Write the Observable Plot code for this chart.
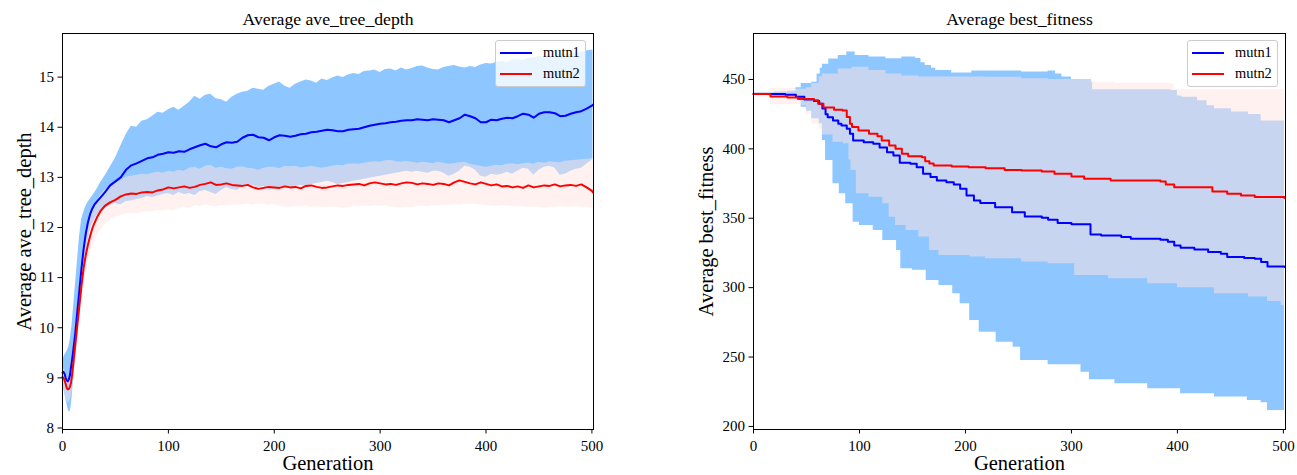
<!DOCTYPE html>
<html>
<head>
<meta charset="utf-8">
<script src="https://cdn.jsdelivr.net/npm/d3@7"></script>
<script src="https://cdn.jsdelivr.net/npm/@observablehq/plot@0.6"></script>
<style>
  html, body { margin: 0; padding: 0; background: #fff; }
  #wrap { position: relative; width: 1297px; height: 475px; overflow: hidden;
          font-family: "Liberation Serif", "Times New Roman", serif; }
  .panel { position: absolute; top: 0; }
  .legend { position: absolute; width: 91px; height: 47px; box-sizing: border-box;
            background: rgba(255,255,255,0.8); border: 1px solid #cccccc; border-radius: 3px; }
  .legend .sw { position: absolute; left: 4px; width: 32px; height: 2px; }
  .legend .lab { position: absolute; left: 47px; font-size: 14.4px; line-height: 16px; color: #000; }
</style>
</head>
<body>
<div id="wrap">
  <div class="panel" id="left" style="left:0px"></div>
  <div class="panel" id="right" style="left:648px"></div>
</div>
<script>
// ---------- labels ----------
const SERIES = ["mutn1", "mutn2"];
const L_TITLE = "Average ave_tree_depth";
const L_YLABEL = "Average ave_tree_depth";
const R_TITLE = "Average best_fitness";
const R_YLABEL = "Average best_fitness";
const X_LABEL = "Generation";
const X_TICKS = [0, 100, 200, 300, 400, 500];
const L_Y_TICKS = [8, 9, 10, 11, 12, 13, 14, 15];
const R_Y_TICKS = [200, 250, 300, 350, 400, 450];

// ---------- left panel: average tree depth (mean and band per generation) ----------
const L_gen = [0,1,2,3,4,5,6,7,8,9,10,12,14,16,18,20,22,24,26,28,30,33,36,40,
  45,50,55,60,65,70,75,80,85,90, 95,100,105,110,115,120,125,130,135,140,
  145,150,155,160,165,170,175,180,185,190, 195,200,205,210,215,220,225,230,235,240,
  245,250,255,260,265,270,275,280,285,290, 295,300,305,310,315,320,325,330,335,340,
  345,350,355,360,365,370,375,380,385,390, 395,400,405,410,415,420,425,430,435,440,
  445,450,455,460,465,470,475,480,485,490, 495,500,501];

const L_m1 = [9.10,9.12,9.08,9.00,8.95,8.93,8.97,9.05,9.20,9.35,9.52,9.88,10.32,10.76,11.20,11.58,11.88,12.10,12.26,12.37,12.45,12.53,12.60,12.70,
  12.84,12.92,13.00,13.15,13.24,13.28,13.33,13.38,13.40,13.45,
  13.47,13.50,13.49,13.52,13.51,13.56,13.60,13.64,13.67,13.62,
  13.60,13.66,13.70,13.69,13.71,13.79,13.84,13.85,13.80,13.79,
  13.74,13.80,13.84,13.83,13.81,13.83,13.86,13.87,13.90,13.91,
  13.93,13.95,13.94,13.92,13.92,13.95,13.96,13.97,14.00,14.03,
  14.05,14.07,14.08,14.10,14.11,14.13,14.14,14.14,14.16,14.15,
  14.14,14.16,14.15,14.14,14.10,14.14,14.18,14.25,14.22,14.18,
  14.10,14.10,14.15,14.14,14.17,14.19,14.18,14.22,14.27,14.25,
  14.19,14.27,14.30,14.30,14.28,14.22,14.23,14.27,14.30,14.32,
  14.37,14.43,14.45];

const L_u1 = [9.35,9.40,9.45,9.48,9.52,9.56,9.62,9.72,9.88,10.05,10.30,10.80,11.30,11.80,12.15,12.30,12.42,12.50,12.56,12.62,12.68,12.78,12.90,13.02,
  13.20,13.38,13.62,13.85,14.02,14.00,14.12,14.15,14.22,14.30,
  14.28,14.35,14.40,14.34,14.42,14.50,14.62,14.56,14.64,14.66,
  14.57,14.55,14.50,14.60,14.66,14.70,14.72,14.78,14.76,14.74,
  14.82,14.86,14.90,14.82,14.78,14.86,14.90,14.94,14.92,14.88,
  14.96,14.93,14.98,15.02,14.99,15.04,15.07,15.05,15.11,15.12,
  15.14,15.09,15.15,15.16,15.12,15.18,15.14,15.17,15.21,15.22,
  15.18,15.15,15.14,15.19,15.21,15.23,15.20,15.18,15.21,15.19,
  15.24,15.27,15.26,15.29,15.31,15.29,15.34,15.35,15.33,15.37,
  15.38,15.41,15.39,15.43,15.40,15.44,15.46,15.45,15.48,15.50,
  15.52,15.54,15.53];

const L_l1 = [8.85,8.80,8.70,8.60,8.50,8.40,8.33,8.32,8.40,8.60,8.85,9.30,9.75,10.20,10.65,11.05,11.40,11.70,11.92,12.05,12.15,12.25,12.30,12.36,
  12.44,12.48,12.45,12.52,12.53,12.56,12.58,12.62,12.60,12.63,
  12.66,12.68,12.64,12.70,12.66,12.68,12.64,12.72,12.74,12.70,
  12.66,12.74,12.80,12.76,12.74,12.82,12.86,12.84,12.80,12.82,
  12.74,12.76,12.80,12.82,12.78,12.82,12.84,12.82,12.86,12.88,
  12.90,12.92,12.90,12.86,12.88,12.90,12.92,12.94,12.96,12.98,
  13.00,13.02,13.04,13.06,13.08,13.10,13.12,13.10,13.12,13.10,
  13.08,13.12,13.12,13.08,13.02,13.06,13.12,13.22,13.20,13.14,
  13.02,13.00,13.06,13.04,13.06,13.10,13.06,13.12,13.18,13.16,
  13.04,13.14,13.20,13.22,13.18,13.04,13.06,13.12,13.16,13.18,
  13.26,13.34,13.37];

const L_m2 = [9.02,9.00,8.95,8.88,8.80,8.77,8.78,8.82,8.90,9.05,9.25,9.65,10.05,10.45,10.85,11.20,11.45,11.65,11.82,11.97,12.08,12.22,12.33,12.43,
  12.50,12.55,12.62,12.66,12.68,12.67,12.70,12.71,12.70,12.74,
  12.76,12.80,12.78,12.80,12.82,12.79,12.81,12.85,12.87,12.90,
  12.85,12.86,12.88,12.85,12.84,12.83,12.85,12.80,12.77,12.79,
  12.81,12.80,12.79,12.82,12.80,12.81,12.78,12.83,12.84,12.81,
  12.79,12.80,12.82,12.84,12.83,12.85,12.86,12.87,12.84,12.88,
  12.90,12.88,12.86,12.87,12.85,12.88,12.90,12.89,12.86,12.88,
  12.87,12.85,12.88,12.87,12.84,12.90,12.94,12.91,12.88,12.86,
  12.90,12.87,12.84,12.86,12.82,12.83,12.80,12.82,12.79,12.84,
  12.80,12.82,12.84,12.83,12.86,12.82,12.84,12.85,12.83,12.86,
  12.80,12.73,12.70];

const L_u2 = [9.20,9.18,9.15,9.10,9.05,9.00,9.00,9.05,9.15,9.30,9.50,9.90,10.35,10.80,11.20,11.55,11.85,12.05,12.20,12.35,12.45,12.55,12.65,12.75,
  12.82,12.88,12.94,13.00,13.02,13.04,13.06,13.05,13.08,13.10,
  13.08,13.12,13.10,13.14,13.12,13.18,13.20,13.16,13.22,13.24,
  13.18,13.20,13.17,13.16,13.20,13.21,13.18,13.17,13.14,13.18,
  13.20,13.20,13.17,13.22,13.21,13.22,13.19,13.20,13.22,13.20,
  13.18,13.20,13.22,13.24,13.23,13.26,13.27,13.26,13.28,13.30,
  13.31,13.30,13.33,13.34,13.31,13.30,13.32,13.30,13.28,13.30,
  13.29,13.27,13.30,13.28,13.26,13.27,13.29,13.30,13.26,13.24,
  13.22,13.20,13.22,13.24,13.23,13.26,13.27,13.25,13.27,13.28,
  13.26,13.30,13.28,13.31,13.30,13.29,13.32,13.33,13.34,13.35,
  13.36,13.37,13.37];

const L_l2 = [8.85,8.80,8.72,8.62,8.55,8.50,8.50,8.55,8.62,8.75,8.95,9.35,9.75,10.10,10.45,10.80,11.05,11.30,11.45,11.60,11.70,11.85,11.95,12.05,
  12.15,12.20,12.24,12.27,12.28,12.27,12.30,12.32,12.31,12.34,
  12.33,12.35,12.34,12.37,12.40,12.38,12.44,12.42,12.45,12.43,
  12.41,12.44,12.43,12.45,12.44,12.46,12.47,12.45,12.47,12.46,
  12.44,12.46,12.43,12.41,12.40,12.42,12.41,12.43,12.40,12.41,
  12.40,12.40,12.41,12.40,12.38,12.40,12.42,12.41,12.43,12.42,
  12.44,12.42,12.43,12.41,12.40,12.39,12.41,12.40,12.42,12.43,
  12.41,12.44,12.43,12.45,12.44,12.46,12.45,12.47,12.46,12.47,
  12.45,12.44,12.43,12.42,12.44,12.43,12.42,12.41,12.42,12.40,
  12.41,12.40,12.39,12.40,12.41,12.42,12.41,12.40,12.42,12.41,
  12.40,12.39,12.40];

// ---------- right panel: best fitness (step changes: generation where a value starts) ----------
const R_m1_gen = [0,30,40,48,57,62,65,68,70,75,80,83,88,91,94,104,113,119,126,132,138,148,154,160,167,173,182,189,195,201,208,214,228,244,256,272,278,287,300,318,328,347,356,384,391,397,403,416,429,441,447,463,473,479,485,501];
const R_m1 = [439.5,439,437.5,435.5,434.5,432.5,429,425,422.8,420.4,418,416.8,414.4,410.8,406,404.8,403.6,401,397.6,395.2,390,389.3,386.8,382,379.7,377.2,376,374.3,371.2,366.4,362.8,361,358,354.4,351.3,350.3,349,346.5,345.6,338.3,337.6,336.4,335.2,334.5,333,330.4,328.8,327.4,325.6,324.5,322,321.3,320.8,318.4,315.3,314.8];

const R_m2_gen = [0,16,32,42,57,61,66,76,84,88,91,93,99,109,117,121,128,134,140,146,159,162,166,170,187,203,219,237,253,272,284,300,312,337,384,389,397,433,447,460,473,501];
const R_m2 = [439.5,437.8,437,436,435,432.5,429.7,428.1,427.7,422.9,418,415.7,413.3,410.8,409,406,402.4,400,396.4,394.7,394,391,389.5,388,387.3,386.8,386,384.8,384.4,383.7,382,380,378.4,377.2,376.5,374.3,372.4,369.3,367.6,366.4,365.3,364.5];

const R_u1_gen = [0,20,32,40,45,55,60,63,65,71,80,88,96,109,125,140,153,158,162,168,172,187,206,253,278,285,291,300,319,320,394,400,404,419,428,435,451,467,479,501];
const R_u1 = [440.5,441,441.5,444,447,448,454,458,461,464.8,467.3,469.7,467.3,466.1,464.9,466.1,465,462,460,458,456.5,454.6,456,455.3,456,454,451.7,450,448,442.5,442,438,437.2,434.7,431,428.9,426.5,424.8,420,419.4];

const R_l1_gen = [0,32,40,45,50,55,62,65,68,75,81,87,94,100,113,122,135,139,150,163,175,188,195,204,213,229,245,252,278,309,317,341,372,403,435,466,479,485,501];
const R_l1 = [438.5,438,436,430,427,421.7,418,406,391.6,374.8,367.6,360.4,347.2,344.8,341.2,334,326.8,313.6,312.5,305.2,301.5,295.6,288.4,276.4,267.9,260.7,257.1,247.6,244.4,239.1,233.6,230.8,227.2,223.6,221.2,218.7,217,211.5,210.7];

const R_u2_gen = [0,16,40,50,55,62,65,80,93,109,125,140,156,219,253,278,319,341,394,397,404,501];
const R_u2 = [441,443.5,443,444,447,452,454,457.5,458.8,456.5,454,452.5,451.7,451.5,450.5,450,448,447.3,446.8,443,442.5,442];

const R_l2_gen = [0,16,40,45,50,55,62,65,75,85,90,92,97,109,122,128,134,144,156,166,175,204,219,253,278,303,335,372,400,435,467,485,498,501];
const R_l2 = [438.5,432,432,431,425,418,414,410,404.8,403.6,392,384.4,367.6,365.2,360.4,350.8,344.8,341.2,336.4,326.8,323.2,322,320.8,318.4,317.2,308.8,306.4,302.8,300,295.6,293.2,290,287.2,287];

// ---------- styling ----------
const FONT = "'Liberation Serif', 'Times New Roman', serif";
const LINE_COLORS = ["#0000ff", "#ff0000"];
const BAND_COLORS = ["#1e90ff", "#ffe4e1"];
const BAND_OPACITY = 0.5;

// ---------- tables ----------
const leftRows = L_gen.map((g, i) => ({
  g, m1: L_m1[i], u1: L_u1[i], l1: L_l1[i], m2: L_m2[i], u2: L_u2[i], l2: L_l2[i]
}));

const toSteps = (gens, vals) => gens.map((g, i) => ({g, v: vals[i]}));

// value held by a step series at generation g
function heldAt(gens, vals, g) {
  const i = d3.bisectRight(gens, g) - 1;
  return vals[Math.max(0, i)];
}
function bandRows(gU, vU, gL, vL) {
  const xs = Array.from(new Set([...gU, ...gL])).sort((a, b) => a - b);
  return xs.map(g => ({g, lo: heldAt(gL, vL, g), hi: heldAt(gU, vU, g)}));
}
const rightBand1 = bandRows(R_u1_gen, R_u1, R_l1_gen, R_l1);
const rightBand2 = bandRows(R_u2_gen, R_u2, R_l2_gen, R_l2);

function labels(title, ylab, yOffset) {
  return [
    Plot.text([title], {text: d => d, frameAnchor: "top", lineAnchor: "middle", dy: -14, fontSize: 17.7}),
    Plot.text([X_LABEL], {text: d => d, frameAnchor: "bottom", lineAnchor: "middle", dy: 34, fontSize: 20.5}),
    Plot.text([ylab], {text: d => d, frameAnchor: "left", textAnchor: "middle", lineAnchor: "middle", rotate: -90, dx: yOffset, fontSize: 20.5})
  ];
}

const baseStyle = {fontFamily: FONT, fontSize: "15px", color: "#000", background: "transparent", overflow: "visible"};

const left = Plot.plot({
  width: 648, height: 475,
  marginLeft: 62, marginRight: 55, marginTop: 33, marginBottom: 46,
  x: {domain: [0, 501.5]},
  y: {domain: [7.97, 15.87]},
  style: baseStyle,
  marks: [
    Plot.areaY(leftRows, {x: "g", y1: "l1", y2: "u1", fill: BAND_COLORS[0], fillOpacity: BAND_OPACITY}),
    Plot.areaY(leftRows, {x: "g", y1: "l2", y2: "u2", fill: BAND_COLORS[1], fillOpacity: BAND_OPACITY}),
    Plot.lineY(leftRows, {x: "g", y: "m1", stroke: LINE_COLORS[0], strokeWidth: 2}),
    Plot.lineY(leftRows, {x: "g", y: "m2", stroke: LINE_COLORS[1], strokeWidth: 2}),
    Plot.frame({stroke: "#000", strokeWidth: 1}),
    Plot.axisX({ticks: X_TICKS, tickSize: 4.5, tickPadding: 6.5, label: null, tickFormat: d => String(d)}),
    Plot.axisY({ticks: L_Y_TICKS, tickSize: 4.5, tickPadding: 4, label: null, tickFormat: d => String(d)}),
    ...labels(L_TITLE, L_YLABEL, -38)
  ]
});

const right = Plot.plot({
  width: 649, height: 475,
  marginLeft: 105, marginRight: 12, marginTop: 33, marginBottom: 46,
  x: {domain: [0, 502]},
  y: {domain: [197.8, 483.1]},
  style: baseStyle,
  marks: [
    Plot.areaY(rightBand1, {x: "g", y1: "lo", y2: "hi", curve: "step-after", fill: BAND_COLORS[0], fillOpacity: BAND_OPACITY}),
    Plot.areaY(rightBand2, {x: "g", y1: "lo", y2: "hi", curve: "step-after", fill: BAND_COLORS[1], fillOpacity: BAND_OPACITY}),
    Plot.lineY(toSteps(R_m1_gen, R_m1), {x: "g", y: "v", curve: "step-after", stroke: LINE_COLORS[0], strokeWidth: 2}),
    Plot.lineY(toSteps(R_m2_gen, R_m2), {x: "g", y: "v", curve: "step-after", stroke: LINE_COLORS[1], strokeWidth: 2}),
    Plot.frame({stroke: "#000", strokeWidth: 1}),
    Plot.axisX({ticks: X_TICKS, tickSize: 4.5, tickPadding: 6.5, label: null, tickFormat: d => String(d)}),
    Plot.axisY({ticks: R_Y_TICKS, tickSize: 4.5, tickPadding: 4, label: null, tickFormat: d => String(d)}),
    ...labels(R_TITLE, R_YLABEL, -47)
  ]
});

document.getElementById("left").appendChild(left);
document.getElementById("right").appendChild(right);

// legends (upper right of each panel)
function legend(leftPx) {
  const box = document.createElement("div");
  box.className = "legend";
  box.style.left = leftPx + "px";
  box.style.top = "40px";
  SERIES.forEach((name, i) => {
    const sw = document.createElement("div");
    sw.className = "sw";
    sw.style.top = (11 + i * 21) + "px";
    sw.style.background = LINE_COLORS[i];
    const lab = document.createElement("div");
    lab.className = "lab";
    lab.style.top = (3 + i * 21) + "px";
    lab.textContent = name;
    box.appendChild(sw);
    box.appendChild(lab);
  });
  document.getElementById("wrap").appendChild(box);
}
legend(495);
legend(1187);
</script>
</body>
</html>
